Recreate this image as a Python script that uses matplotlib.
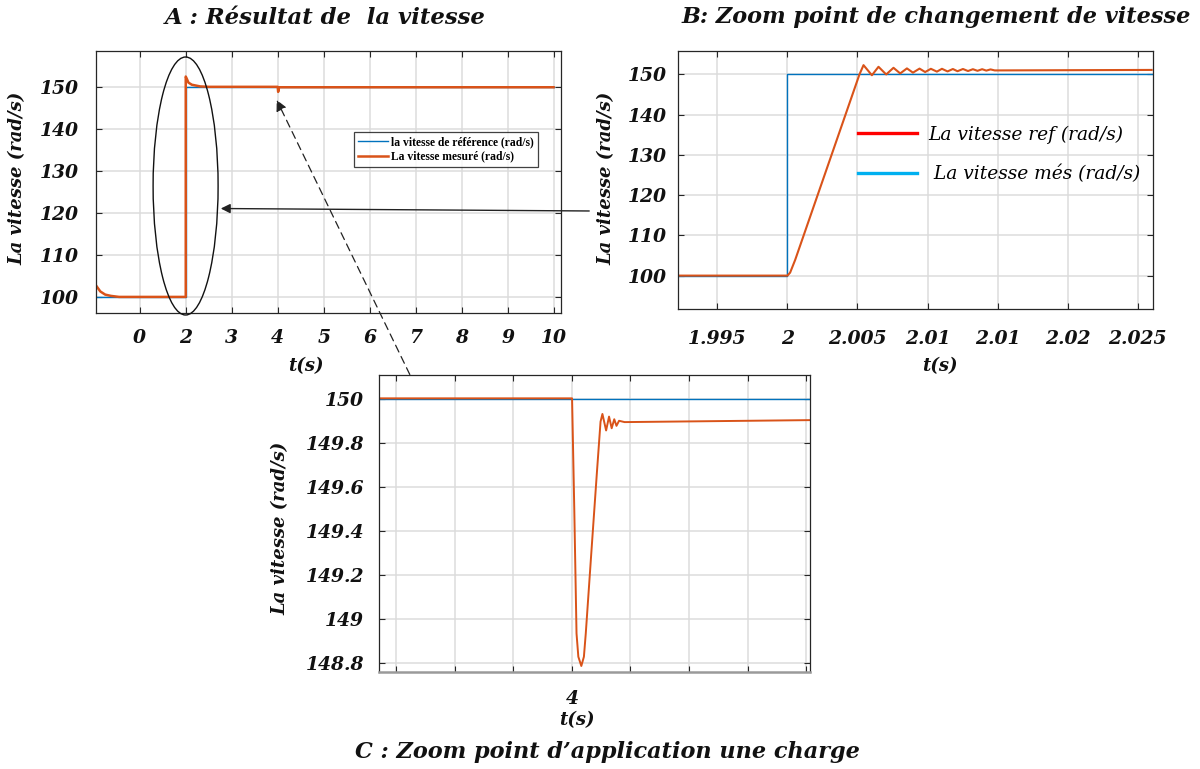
import matplotlib
matplotlib.use("Agg")
import matplotlib.pyplot as plt
from matplotlib.lines import Line2D
from matplotlib.patches import Ellipse, FancyArrowPatch

# ---------------- data ----------------
# Panel A : full speed response
a_xticks = [1, 2, 3, 4, 5, 6, 7, 8, 9, 10]
a_xticklabels = ["0", "2", "3", "4", "5", "6", "7", "8", "9", "10"]
a_yticks = [100, 110, 120, 130, 140, 150]
a_ref_t = [0.057, 2.0, 2.0, 10.0]
a_ref_w = [100.0, 100.0, 150.0, 150.0]
a_mes_t = [0.057, 0.142, 0.248, 0.375, 0.55, 2.0, 2.0, 2.02, 2.059, 2.133,
           2.314, 2.5, 4.0, 4.01, 4.03, 10.0]
a_mes_w = [102.6, 101.3, 100.55, 100.24, 100.0, 100.0, 152.45, 152.0, 151.0,
           150.5, 150.1, 150.0, 150.0, 148.8, 149.9, 149.9]

# Panel B : speed step around t = 2 s
b_xticks = [1.995, 2.0, 2.005, 2.01, 2.015, 2.02, 2.025]
b_xticklabels = ["1.995", "2", "2.005", "2.01", "2.01", "2.02", "2.025"]
b_yticks = [100, 110, 120, 130, 140, 150]
b_ref_t = [1.99217, 2.0, 2.0, 2.026]
b_ref_w = [100.0, 100.0, 150.0, 150.0]
b_mes_t = [1.99217, 2.0, 2.00019, 2.00055, 2.00514, 2.00543, 2.00603, 2.00650,
           2.00705, 2.00757, 2.00805, 2.00853, 2.00896, 2.00943, 2.00983,
           2.01024, 2.01067, 2.01103, 2.01143, 2.01181, 2.01214, 2.01253,
           2.01289, 2.01324, 2.01357, 2.0139, 2.0142, 2.0145, 2.0148, 2.026]
b_mes_w = [100.0, 100.0, 100.74, 103.9, 150.0, 152.31, 149.8, 151.9, 150.0,
           151.65, 150.25, 151.5, 150.45, 151.45, 150.6, 151.4, 150.7, 151.4,
           150.75, 151.35, 150.8, 151.35, 150.85, 151.3, 150.9, 151.3, 150.95,
           151.25, 151.0, 151.12]
b_legend = ["La vitesse ref (rad/s)", " La vitesse més (rad/s)"]

# Panel C : load application around t = 4 s
c_xticks = [3.97, 3.98, 3.99, 4.0, 4.01, 4.02, 4.03, 4.04]
c_xticklabels = ["", "", "", "4", "", "", "", ""]
c_yticks = [148.8, 149.0, 149.2, 149.4, 149.6, 149.8, 150.0]
c_yticklabels = ["148.8", "149", "149.2", "149.4", "149.6", "149.8", "150"]
c_ref_t = [3.9671, 4.0406]
c_ref_w = [150.0, 150.0]
c_mes_t = [3.9671, 4.00003, 4.00041, 4.00079, 4.00110, 4.00161, 4.00205,
           4.00237, 4.00331, 4.00426, 4.00489, 4.00521, 4.00584, 4.00634,
           4.00679, 4.00723, 4.00761, 4.00805, 4.00899, 4.0406]
c_mes_w = [150.004, 150.004, 149.497, 148.936, 148.830, 148.788, 148.830,
           148.936, 149.300, 149.664, 149.898, 149.933, 149.858, 149.921,
           149.868, 149.909, 149.879, 149.902, 149.896, 149.905]

# ---------------- style ----------------
W, H = 1200, 769
BLUE = "#0072BD"
ORANGE = "#D95319"
FONT = "DejaVu Serif"
TXT = dict(family=FONT, style="italic", weight="bold", color="#111111")

fig = plt.figure(figsize=(W / 100, H / 100), dpi=100)


def rect(l, t, r, b):
    return [l / W, 1 - b / H, (r - l) / W, (b - t) / H]


def fx(x):
    return x / W


def fy(y):
    return 1 - y / H


def style_axes(ax, xpad, ypad, size=13.5):
    ax.grid(True, color="#dcdcdc", linewidth=1.1)
    ax.set_axisbelow(True)
    ax.tick_params(direction="in", top=True, right=True, length=4.5,
                   width=0.8, color="#262626")
    ax.tick_params(axis="x", pad=xpad)
    ax.tick_params(axis="y", pad=ypad)
    for lab in ax.get_xticklabels() + ax.get_yticklabels():
        lab.set_fontfamily(FONT)
        lab.set_fontstyle("italic")
        lab.set_fontweight("bold")
        lab.set_fontsize(size)
        lab.set_color("#111111")
    for s in ax.spines.values():
        s.set_color("#262626")
        s.set_linewidth(0.9)


# ---- Panel A ----
axA = fig.add_axes(rect(96.4, 50.7, 561.4, 313.3))
axA.plot(a_ref_t, a_ref_w, color=BLUE, lw=1.0, label="la vitesse de référence (rad/s)")
axA.plot(a_mes_t, a_mes_w, color=ORANGE, lw=1.8, label="La vitesse mesuré (rad/s)")
axA.set_xlim(0.057, 10.17)
axA.set_ylim(96.1, 158.6)
axA.set_xticks(a_xticks)
axA.set_xticklabels(a_xticklabels)
axA.set_yticks(a_yticks)
style_axes(axA, xpad=11, ypad=13)
legA = axA.legend(loc="center", bbox_to_anchor=(0.752, 0.624),
                  prop=dict(family="Liberation Serif", weight="bold", size=8.4),
                  frameon=True, fancybox=False, edgecolor="#111111",
                  handlelength=2.5, handletextpad=0.3, borderpad=0.35,
                  labelspacing=0.2, borderaxespad=0)
legA.get_frame().set_linewidth(0.9)

# ---- Panel B ----
axB = fig.add_axes(rect(677.8, 50.7, 1153.0, 309.0))
axB.plot(b_ref_t, b_ref_w, color=BLUE, lw=1.0)
axB.plot(b_mes_t, b_mes_w, color=ORANGE, lw=1.5)
axB.set_xlim(1.99217, 2.0261)
axB.set_ylim(91.7, 155.9)
axB.set_xticks(b_xticks)
axB.set_xticklabels(b_xticklabels)
axB.set_yticks(b_yticks)
style_axes(axB, xpad=15, ypad=7.8)
handles = [Line2D([], [], color="#FF0000", lw=2.4),
           Line2D([], [], color="#00B0F0", lw=2.4)]
axB.legend(handles, b_legend, loc="center", bbox_to_anchor=(0.676, 0.598),
           prop=dict(family=FONT, style="italic", size=13.4),
           frameon=False, handlelength=3.2, handletextpad=0.6,
           labelspacing=1.15, borderaxespad=0)

# ---- Panel C ----
axC = fig.add_axes(rect(379.1, 375.0, 809.8, 671.7))
axC.plot(c_ref_t, c_ref_w, color=BLUE, lw=1.0)
axC.plot(c_mes_t, c_mes_w, color=ORANGE, lw=1.4)
axC.set_xlim(3.9671, 4.0406)
axC.set_ylim(148.762, 150.11)
axC.set_xticks(c_xticks)
axC.set_xticklabels(c_xticklabels)
axC.set_yticks(c_yticks)
axC.set_yticklabels(c_yticklabels)
style_axes(axC, xpad=13, ypad=11)
axC.spines["bottom"].set_color("#9a9a9a")
axC.spines["bottom"].set_linewidth(1.8)

# ---- axis labels ----
fig.text(fx(18), fy(178), "La vitesse (rad/s)", rotation=90, ha="center",
         va="center", fontsize=13, **TXT)
fig.text(fx(306), fy(366), "t(s)", ha="center", va="center", fontsize=13, **TXT)
fig.text(fx(606), fy(178), "La vitesse (rad/s)", rotation=90, ha="center",
         va="center", fontsize=13, **TXT)
fig.text(fx(940), fy(366), "t(s)", ha="center", va="center", fontsize=13, **TXT)
fig.text(fx(281), fy(528), "La vitesse (rad/s)", rotation=90, ha="center",
         va="center", fontsize=13, **TXT)
fig.text(fx(577), fy(720), "t(s)", ha="center", va="center", fontsize=13, **TXT)

# ---- titles ----
fig.text(fx(325.7), fy(17.5), "A : Résultat de  la vitesse", ha="center",
         va="center", fontsize=16.4, **TXT)
fig.text(fx(936.7), fy(17.5), "B: Zoom point de changement de vitesse",
         ha="center", va="center", fontsize=16.1, **TXT)
fig.text(fx(607), fy(752), "C : Zoom point d’application une charge",
         ha="center", va="center", fontsize=16.1, **TXT)

# ---- annotations linking the panels ----
ell = Ellipse((fx(185.6), fy(186)), 65 / W, 258 / H, transform=fig.transFigure,
              fill=False, edgecolor="#111111", lw=1.0)
fig.add_artist(ell)
arrow1 = FancyArrowPatch((fx(592), fy(211)), (fx(218), fy(208.5)),
                         transform=fig.transFigure, arrowstyle="-|>",
                         mutation_scale=14, color="#222222", lw=1.0)
fig.add_artist(arrow1)
arrow2 = FancyArrowPatch((fx(411), fy(377)), (fx(275.5), fy(97.5)),
                         transform=fig.transFigure, arrowstyle="-|>",
                         mutation_scale=16, color="#222222", lw=0.9,
                         linestyle=(0, (6, 4)))
fig.add_artist(arrow2)

fig.savefig("out.png", dpi=100)
